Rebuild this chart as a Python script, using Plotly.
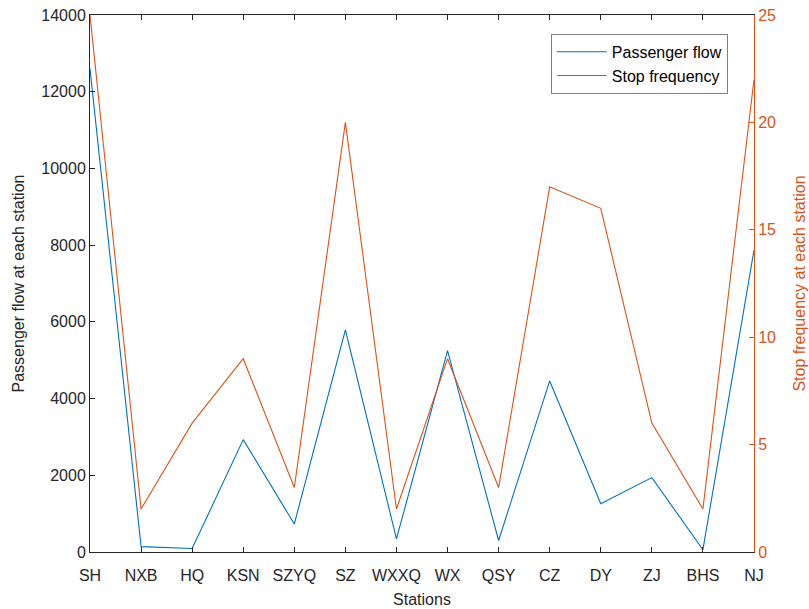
import plotly.graph_objects as go

stations = ["SH", "NXB", "HQ", "KSN", "SZYQ", "SZ", "WXXQ", "WX", "QSY", "CZ", "DY", "ZJ", "BHS", "NJ"]
passenger_flow = [12600, 140, 90, 2930, 730, 5790, 340, 5250, 300, 4460, 1260, 1940, 60, 7870]
stop_frequency = [25, 2, 6, 9, 3, 20, 2, 9, 3, 17, 16, 6, 2, 22]

left_ticks = [0, 2000, 4000, 6000, 8000, 10000, 12000, 14000]
right_ticks = [0, 5, 10, 15, 20, 25]

BLUE = "#0072BD"
ORANGE = "#D95319"
DARK = "#262626"
FONT = "Liberation Sans, Arial, Helvetica, sans-serif"
FS = 16

x_idx = list(range(len(stations)))

fig = go.Figure()
fig.add_trace(go.Scatter(
    x=x_idx, y=passenger_flow, mode="lines", name="Passenger flow",
    line=dict(color=BLUE, width=1.1), yaxis="y",
))
fig.add_trace(go.Scatter(
    x=x_idx, y=stop_frequency, mode="lines", name="Stop frequency",
    line=dict(color=ORANGE, width=1.1), yaxis="y2",
))

fig.update_layout(
    width=809, height=609,
    margin=dict(l=90, r=55, t=15, b=57),
    paper_bgcolor="white", plot_bgcolor="white",
    font=dict(family=FONT, size=FS, color=DARK),
    showlegend=True,
    legend=dict(
        x=0.694, y=0.965, xanchor="left", yanchor="top",
        bordercolor="#7f7f7f", borderwidth=1, bgcolor="white",
        font=dict(family=FONT, size=FS, color="black"),
        tracegroupgap=0, itemwidth=50,
    ),
    xaxis=dict(
        range=[0, len(stations) - 1],
        tickmode="array", tickvals=x_idx, ticktext=stations,
        ticks="inside", ticklen=5, tickcolor=DARK, tickwidth=1,
        ticklabelstandoff=9,
        showline=True, linecolor=DARK, linewidth=1, mirror="ticks",
        showgrid=False, zeroline=False,
        tickfont=dict(family=FONT, size=FS, color=DARK),
        title=dict(text="Stations", font=dict(family=FONT, size=FS, color=DARK), standoff=10),
        automargin=False,
    ),
    yaxis=dict(
        range=[0, 14000],
        tickmode="array", tickvals=left_ticks, ticktext=[str(v) for v in left_ticks],
        ticks="inside", ticklen=5, tickcolor=DARK, tickwidth=1,
        showline=True, linecolor=DARK, linewidth=1,
        showgrid=False, zeroline=False,
        tickfont=dict(family=FONT, size=FS, color=DARK),
        title=dict(text="Passenger flow at each station", font=dict(family=FONT, size=FS, color=DARK), standoff=12),
        automargin=False,
    ),
    yaxis2=dict(
        range=[0, 25], overlaying="y", side="right",
        tickmode="array", tickvals=right_ticks, ticktext=[str(v) for v in right_ticks],
        ticks="inside", ticklen=5, tickcolor=ORANGE, tickwidth=1,
        showline=True, linecolor=ORANGE, linewidth=1,
        showgrid=False, zeroline=False,
        tickfont=dict(family=FONT, size=FS, color=ORANGE),
        title=dict(text="Stop frequency at each station", font=dict(family=FONT, size=FS, color=ORANGE), standoff=18),
        automargin=False,
    ),
)

fig.write_html("out.html")
